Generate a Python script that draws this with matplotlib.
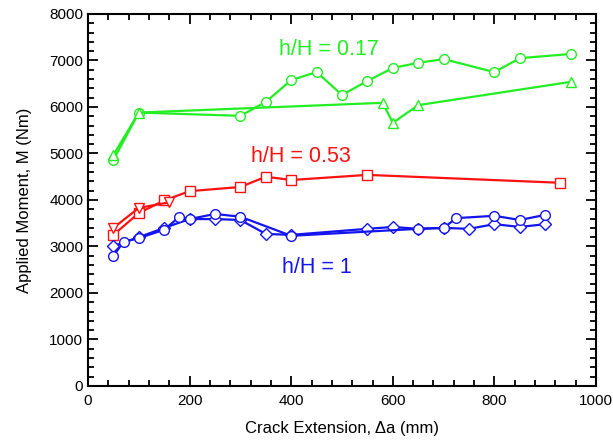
import matplotlib
matplotlib.use("Agg")
import matplotlib.pyplot as plt
from matplotlib.ticker import MultipleLocator

plt.rcParams["font.family"] = ["Liberation Sans", "DejaVu Sans"]

# h/H = 0.17 (green)
g_circ_x = [50, 100, 300, 350, 400, 450, 500, 550, 600, 650, 700, 800, 850, 950]
g_circ_y = [4860, 5880, 5810, 6110, 6580, 6750, 6260, 6560, 6840, 6950, 7030, 6750, 7050, 7140]
g_tri_x = [50, 100, 580, 600, 650, 950]
g_tri_y = [4970, 5880, 6090, 5660, 6040, 6540]

# h/H = 0.53 (red)
r_sq_x = [50, 100, 150, 200, 300, 350, 400, 550, 930]
r_sq_y = [3250, 3720, 3990, 4190, 4280, 4500, 4430, 4540, 4370]
r_tri_x = [50, 100, 160]
r_tri_y = [3400, 3830, 3950]

# h/H = 1 (blue)
b_circ_x = [50, 70, 100, 150, 180, 200, 250, 300, 400, 650, 700, 725, 800, 850, 900]
b_circ_y = [2800, 3100, 3180, 3360, 3640, 3590, 3700, 3640, 3230, 3380, 3400, 3610, 3660, 3570, 3680]
b_dia_x = [50, 100, 150, 200, 250, 300, 350, 400, 550, 600, 650, 700, 750, 800, 850, 900]
b_dia_y = [3010, 3200, 3400, 3590, 3590, 3570, 3270, 3250, 3380, 3420, 3380, 3400, 3380, 3480, 3420, 3480]

GREEN = "#22ee22"
RED = "#ff1111"
BLUE = "#1414ee"

fig = plt.figure(figsize=(6.13, 4.43), dpi=100)
ax = fig.add_axes([0.1436, 0.1287, 0.8287, 0.8397])

style = dict(lw=1.6, mfc="white", mew=1.0, ms=7)
ax.plot(g_circ_x, g_circ_y, "-o", color=GREEN, **style)
ax.plot(g_tri_x, g_tri_y, "-^", color=GREEN, **style)
ax.plot(r_sq_x, r_sq_y, "-s", color=RED, **style)
ax.plot(r_tri_x, r_tri_y, "-v", color=RED, **style)
ax.plot(b_dia_x, b_dia_y, "-D", color=BLUE, lw=1.6, mfc="white", mew=1.0, ms=6)
ax.plot(b_circ_x, b_circ_y, "-o", color=BLUE, **style)

ax.text(474, 7230, "h/H = 0.17", color=GREEN, fontsize=15.5, ha="center", va="center")
ax.text(419, 4925, "h/H = 0.53", color=RED, fontsize=15.5, ha="center", va="center")
ax.text(451, 2540, "h/H = 1", color=BLUE, fontsize=15.5, ha="center", va="center")

ax.set_xlim(0, 1000)
ax.set_ylim(0, 8000)
ax.xaxis.set_major_locator(MultipleLocator(200))
ax.xaxis.set_minor_locator(MultipleLocator(40))
ax.yaxis.set_major_locator(MultipleLocator(1000))
ax.yaxis.set_minor_locator(MultipleLocator(200))
ax.tick_params(which="both", direction="in", top=True, right=True, width=1.3, labelsize=11)
ax.tick_params(which="major", length=7)
ax.tick_params(which="minor", length=4)
ax.tick_params(axis="x", pad=6)
for s in ax.spines.values():
    s.set_linewidth(1.5)

ax.set_xlabel("Crack Extension, \u0394a (mm)", fontsize=12, labelpad=9)
ax.set_ylabel("Applied Moment, M (Nm)", fontsize=12, labelpad=12)

fig.savefig("out.png", dpi=100)
